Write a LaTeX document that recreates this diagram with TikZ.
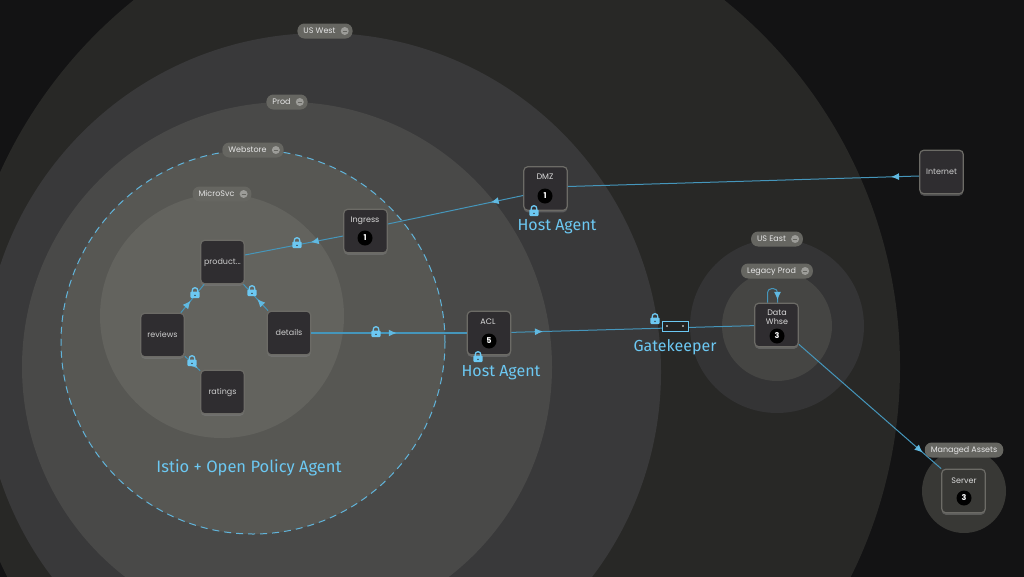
\documentclass[tikz,border=0pt]{standalone}
\usepackage{fontspec}
\setmainfont{Poppins}
\newfontfamily\handfont{Fira Sans}
\usepackage{xcolor}
\usetikzlibrary{decorations.markings,shadows,arrows.meta}

\definecolor{bgdark}{HTML}{131314}
\definecolor{rootring}{HTML}{282826}
\definecolor{westring}{HTML}{39393A}
\definecolor{prodring}{HTML}{494948}
\definecolor{storering}{HTML}{575753}
\definecolor{microring}{HTML}{63635E}
\definecolor{eastring}{HTML}{343435}
\definecolor{legacyring}{HTML}{454543}
\definecolor{serverring}{HTML}{383835}
\definecolor{boxfill}{HTML}{2F2D30}
\definecolor{boxedge}{HTML}{6C6B66}
\definecolor{pillfill}{HTML}{666661}
\definecolor{flowblue}{HTML}{4596BB}
\definecolor{lockblue}{HTML}{6CC8F2}

\tikzset{
	>={Latex[length=8pt,width=7pt]},
	svcbox/.style={draw=boxedge,fill=boxfill,line width=1.2pt,rounded corners=4pt,minimum size=43.5pt,inner sep=0pt,text=white!80!black,text height=6pt,text depth=2pt,font=\fontsize{8}{10}\selectfont,drop shadow={shadow xshift=0pt,shadow yshift=-2pt,opacity=.5}},
	svctext/.style={text=white!85!black,font=\fontsize{8}{10}\selectfont,inner sep=0pt},
	badge/.style={circle,fill=black,text=white,minimum size=15pt,inner sep=0pt,font=\fontsize{8}{10}\selectfont\bfseries},
	pill/.style={rounded corners=7pt,fill=pillfill,text=white!90!black,minimum height=15pt,inner xsep=6pt,inner ysep=0pt,text height=6pt,text depth=2pt,font=\fontsize{8}{10}\selectfont},
	minusdot/.style={circle,fill=white!35!pillfill,text=pillfill,minimum size=8pt,inner sep=0pt,font=\fontsize{4}{4}\selectfont},
	agenttext/.style={text=lockblue,inner sep=0pt,font=\handfont\fontsize{16}{18}\selectfont},
	flow/.style={draw=flowblue,line width=1pt,decoration={markings,mark=at position #1 with {\arrow[lockblue!70!flowblue]{>}}},postaction={decorate}},
	lockicon/.pic={
		\draw[lockblue,line width=1.3pt] (-2.8pt,0pt) -- (-2.8pt,2.5pt) arc[start angle=180,end angle=0,radius=2.8pt] -- (2.8pt,0pt);
		\fill[lockblue,rounded corners=1pt] (-4.6pt,-5pt) rectangle (4.6pt,1.5pt);
		\fill[boxfill] (0pt,-2.4pt) circle[radius=.8pt];
	}
}

\begin{document}
\begin{tikzpicture}[x=1pt,y=-1pt]
	\useasboundingbox (0,0) rectangle (1024,576);
	\clip (-2,-2) rectangle (1026,578);
	\fill[bgdark] (-2,-2) rectangle (1026,578);

	% nested rings on the left
	\fill[rootring] (429,367) circle[radius=471pt];
	\fill[westring] (322,372) circle[radius=339pt];
	\fill[prodring] (287,367) circle[radius=265pt];
	\fill[storering] (253,342) circle[radius=192pt];
	\fill[microring] (222,316) circle[radius=122pt];
	\draw[lockblue!90!black,line width=1pt,dash pattern=on 7pt off 5pt] (253,342) circle[radius=192pt];

	% rings on the right
	\fill[eastring] (777,326) circle[radius=87pt];
	\fill[legacyring] (777,326) circle[radius=55pt];
	\fill[serverring] (964,491) circle[radius=42pt];

	% the boxes
	\node[svcbox] (dmz) at (545.5,188.5) {};
	\node[svcbox] (ingress) at (365.5,231) {};
	\node[svcbox] (productpage) at (222.5,262) {product...};
	\node[svcbox] (reviews) at (162.5,335) {reviews};
	\node[svcbox] (details) at (289,333) {details};
	\node[svcbox] (ratings) at (222.5,392) {ratings};
	\node[svcbox] (acl) at (489,333) {};
	\node[svcbox] (whse) at (776.5,325) {};
	\node[svcbox] (internet) at (941.5,172) {Internet};
	\node[svcbox,fill=serverring] (server) at (963.5,491) {};

	% connecting lines
	\draw[flow=0.08] ([yshift=-4pt]internet.west) -- ([yshift=2pt]dmz.east);
	\draw[flow=0.24] ([yshift=-7pt]dmz.west) -- ([yshift=7pt]ingress.east);
	\draw[flow=0.33] ([yshift=-5pt]ingress.west) -- ([yshift=7pt]productpage.east);
	\draw[flow=0.42] (reviews) -- (productpage);
	\draw[flow=0.44] (details) -- (productpage);
	\draw[flow=0.85] (reviews) -- (ratings);
	\draw[flow=0.55,line width=1.2pt] (details) -- (acl);
	\draw[flow=0.13] (acl) -- (whse);
	\draw[flow=0.87] ([yshift=3pt]whse.south east) -- (server.north west);
	\draw[flow=0.92,rounded corners=4pt] ([xshift=-9pt]whse.north) -- ++(0,-14) -- ++(10,0) -- ([xshift=1pt]whse.north);

	% the gate on the long line
	\node[draw=lockblue,fill=rootring!70!bgdark,line width=.8pt,minimum width=26pt,minimum height=10pt,inner sep=0pt] (gate) at (675,326) {};
	\fill[white] ([xshift=-8pt]gate.center) circle[radius=.8pt];
	\fill[white] ([xshift=8pt]gate.center) circle[radius=.8pt];

	% locks
	\pic at (297,243) {lockicon};
	\pic at (195,293) {lockicon};
	\pic at (252,291) {lockicon};
	\pic at (192,361) {lockicon};
	\pic at (376,332) {lockicon};
	\pic at (534,211) {lockicon};
	\pic at (478,357) {lockicon};
	\pic at (655,319) {lockicon};

	% text and counts in the boxes
	\node[svctext,text height=6pt,text depth=2pt] (dmzname) at (545,177) {DMZ};
	\node[badge] (dmzcount) at (545,196) {1};
	\node[svctext,text height=6pt,text depth=2pt] (ingressname) at (365,220) {Ingress};
	\node[badge] (ingresscount) at (365,238) {1};
	\node[svctext,text height=6pt,text depth=2pt] (aclname) at (488,322) {ACL};
	\node[badge] (aclcount) at (489,341) {5};
	\node[svctext,align=center] (whsename) at (777,317) {Data\\[-1pt]Whse};
	\node[badge] (whsecount) at (777,336) {3};
	\node[svctext,text height=6pt,text depth=2pt] (servername) at (964,481) {Server};
	\node[badge] (servercount) at (964,498) {3};

	% ring labels
	\node[pill] (uswest) at (325,31) {US West\rule{11pt}{0pt}};
	\node[minusdot] (uswestdot) at ([xshift=-8pt]uswest.east) {\rule{4pt}{.8pt}};
	\node[pill] (prod) at (287,102) {Prod\rule{11pt}{0pt}};
	\node[minusdot] (proddot) at ([xshift=-8pt]prod.east) {\rule{4pt}{.8pt}};
	\node[pill] (webstore) at (253,150) {Webstore\rule{11pt}{0pt}};
	\node[minusdot] (webstoredot) at ([xshift=-8pt]webstore.east) {\rule{4pt}{.8pt}};
	\node[pill] (microsvc) at (222,194) {MicroSvc\rule{11pt}{0pt}};
	\node[minusdot] (microsvcdot) at ([xshift=-8pt]microsvc.east) {\rule{4pt}{.8pt}};
	\node[pill] (useast) at (777,239) {US East\rule{11pt}{0pt}};
	\node[minusdot] (useastdot) at ([xshift=-8pt]useast.east) {\rule{4pt}{.8pt}};
	\node[pill] (legacy) at (777,271) {Legacy Prod\rule{11pt}{0pt}};
	\node[minusdot] (legacydot) at ([xshift=-8pt]legacy.east) {\rule{4pt}{.8pt}};
	\node[pill] (managed) at (964,450) {Managed Assets};

	% handwritten notes
	\node[agenttext] (hostone) at (557,227) {Host Agent};
	\node[agenttext] (hosttwo) at (501,373) {Host Agent};
	\node[agenttext] (gatekeeper) at (675,347) {Gatekeeper};
	\node[agenttext,font=\handfont\fontsize{16.5}{18}\selectfont] (istio) at (249,468) {Istio + Open Policy Agent};
\end{tikzpicture}
\end{document}
